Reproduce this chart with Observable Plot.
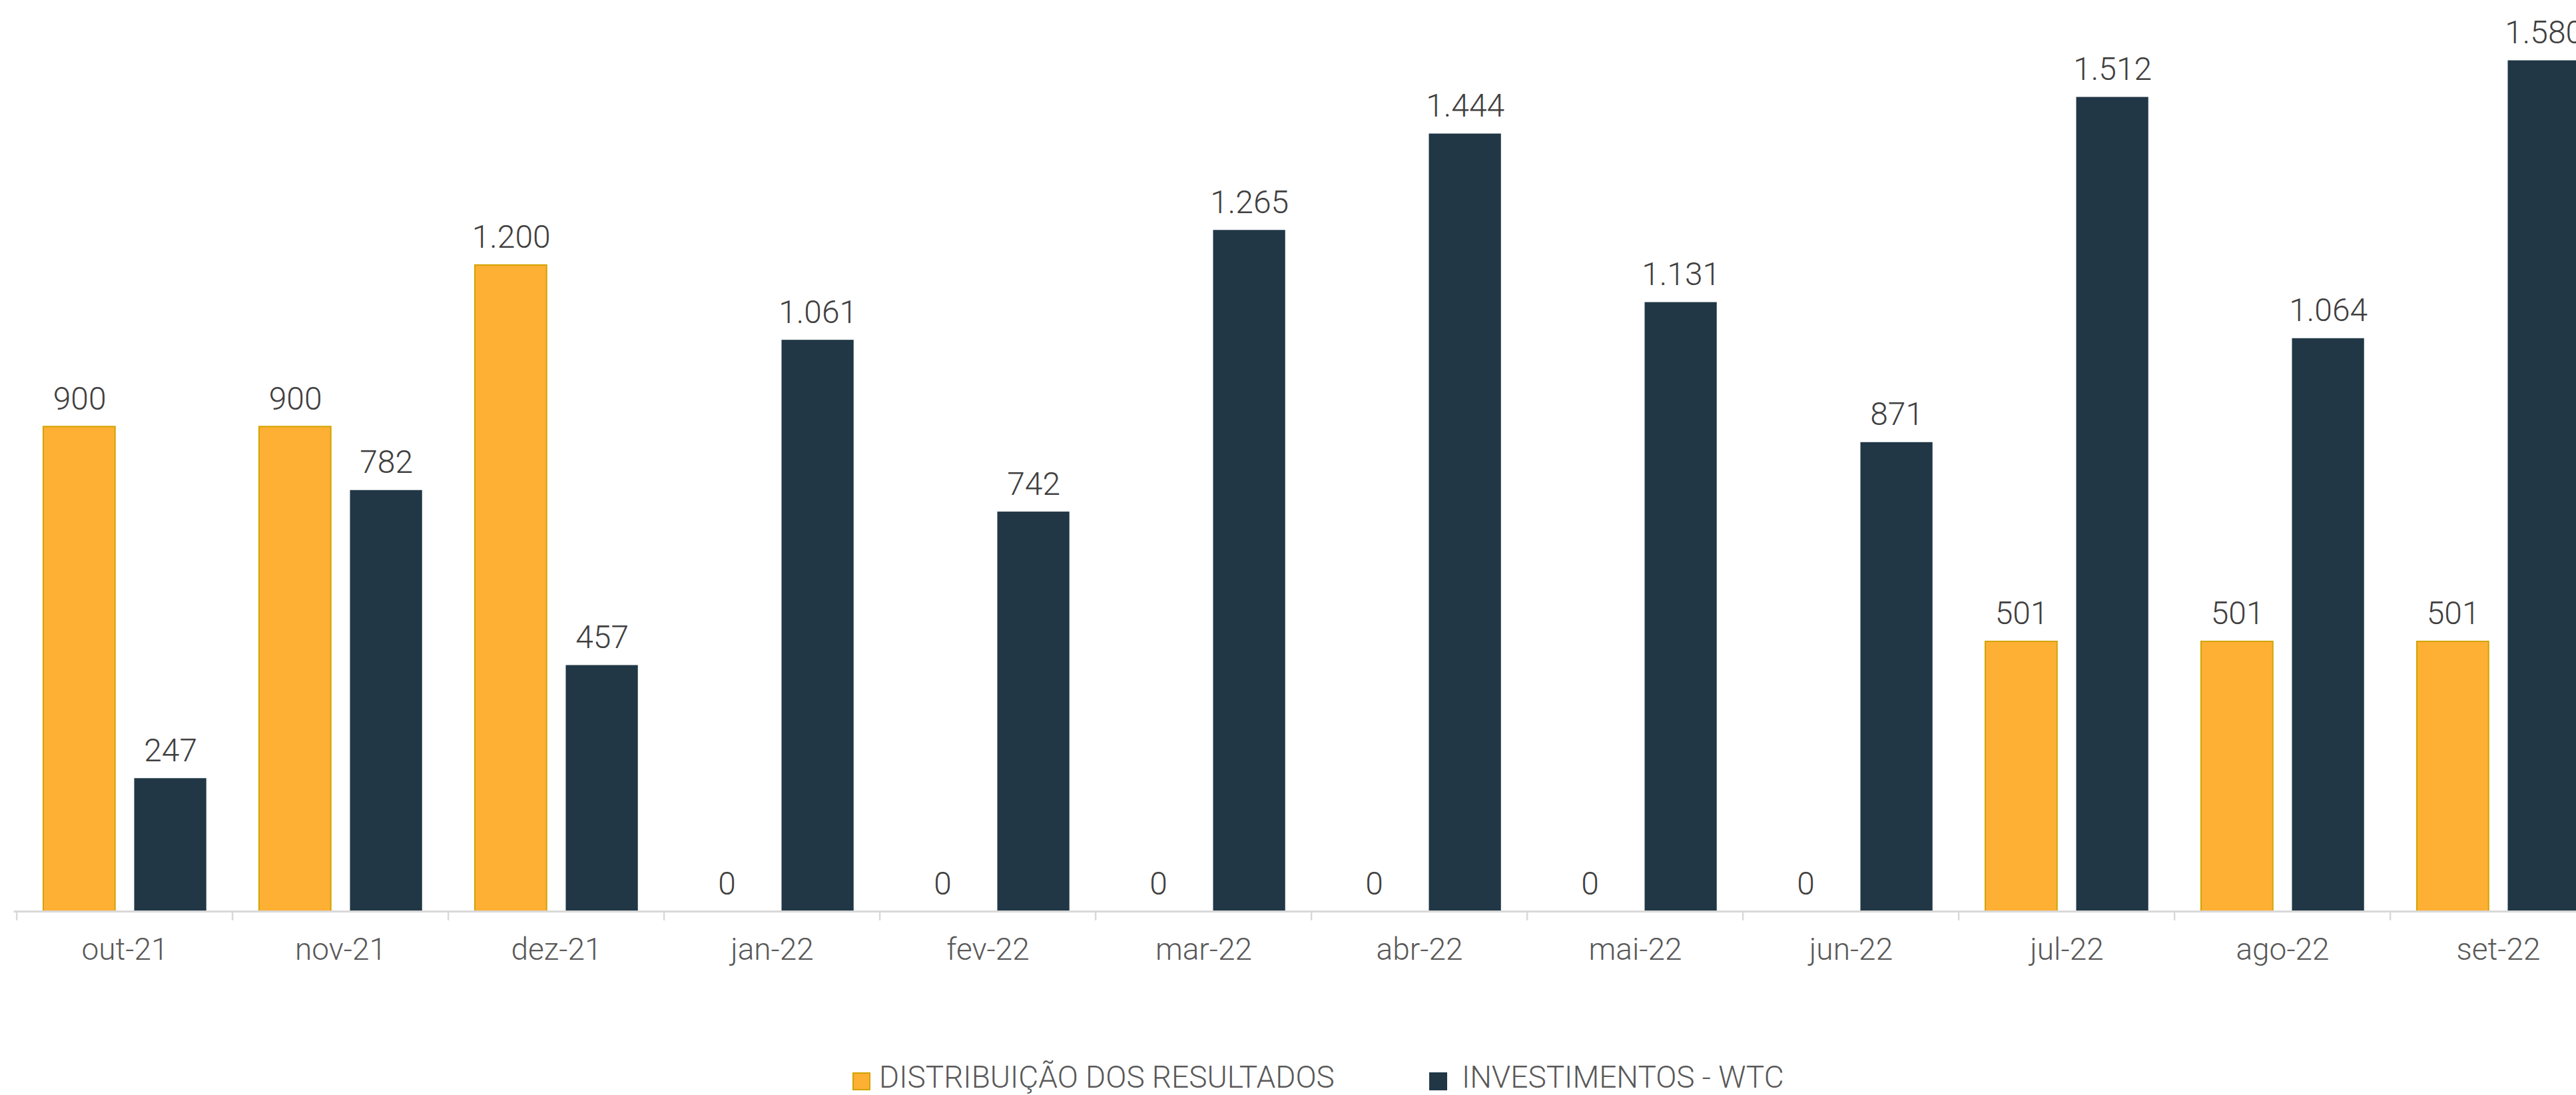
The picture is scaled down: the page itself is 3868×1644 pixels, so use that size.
<!DOCTYPE html>
<html><head><meta charset="utf-8">
<script src="https://cdn.jsdelivr.net/npm/d3@7"></script>
<script src="https://cdn.jsdelivr.net/npm/@observablehq/plot@0.6"></script>
<style>
html,body{margin:0;padding:0;background:#fff;overflow:hidden;width:3868px;height:1644px;position:relative;}
#chart{position:absolute;left:0;top:0;}
#legend{position:absolute;top:1594px;left:1280px;display:flex;align-items:flex-start;font-family:Roboto,"Open Sans",sans-serif;font-weight:300;font-size:46px;line-height:46px;color:#595959;white-space:nowrap;}
#legend .sw{width:23px;height:23px;margin-top:16px;margin-right:13px;box-sizing:content-box;}
#legend .item{display:flex;align-items:flex-start;}
</style>
</head><body>
<div id="chart"></div>
<div id="legend"></div>
<script>
const months = ["out-21","nov-21","dez-21","jan-22","fev-22","mar-22","abr-22","mai-22","jun-22","jul-22","ago-22","set-22"];
const distribuicao = [900,900,1200,0,0,0,0,0,0,501,501,501];
const investimentos = [247,782,457,1061,742,1265,1444,1131,871,1512,1064,1580];
const seriesNames = ["DISTRIBUIÇÃO DOS RESULTADOS","INVESTIMENTOS - WTC"];
const seriesColors = ["#FDB034","#213746"];
const seriesStroke = ["#D2A300","#213746"];

const fmt = d3.formatLocale({decimal:",",thousands:".",grouping:[3],currency:["R$",""]}).format(",d");

const distRows = months.map((m,i)=>({month:m, value:distribuicao[i]}));
const invRows = months.map((m,i)=>({month:m, value:investimentos[i]}));

const W = 3868, H = 1480, mL = 20.5, mR = -49.5, mB = 112;
const bw = (W - mL - mR) / months.length;

const valueText = {fill:"#404040", fontSize:48, fontWeight:300, lineAnchor:"bottom", dy:-26};

const chart = Plot.plot({
  width: W, height: H,
  marginTop: 0, marginBottom: mB, marginLeft: mL, marginRight: mR,
  style: {fontFamily: "Roboto, 'Open Sans', sans-serif", fontSize: "46px", fontWeight: 300, color: "#595959", background: "#fff", overflow: "hidden"},
  x: {domain: months, padding: 0, tickSize: 0, tickPadding: 40, label: null},
  y: {domain: [0, 1692], axis: null},
  marks: [
    Plot.barY(distRows, {x:"month", y:"value", fill: seriesColors[0], stroke: seriesStroke[0], strokeWidth: 2, insetLeft: 40, insetRight: bw - 148.5}),
    Plot.barY(invRows, {x:"month", y:"value", fill: seriesColors[1], insetLeft: 176.5, insetRight: bw - 285.5}),
    Plot.ruleY([0], {stroke:"#d9d9d9", strokeWidth: 3}),
    Plot.ruleX(months, {x: d => d, dx: -bw/2, y1: 0, y2: -17, stroke:"#d9d9d9", strokeWidth: 2.5}),
    Plot.text(distRows, {x:"month", y:"value", text: d => fmt(d.value), dx: 94.5 - bw/2, ...valueText}),
    Plot.text(invRows, {x:"month", y:"value", text: d => fmt(d.value), dx: 231 - bw/2, ...valueText})
  ]
});
document.getElementById("chart").appendChild(chart);

const legend = document.getElementById("legend");
seriesNames.forEach((name, i) => {
  const item = document.createElement("div");
  item.className = "item";
  const sw = document.createElement("div");
  sw.className = "sw";
  if (i > 0) { item.style.marginLeft = "142px"; sw.style.marginRight = "22px"; }
  sw.style.background = seriesColors[i];
  sw.style.border = "2px solid " + seriesStroke[i];
  const t = document.createElement("span");
  t.textContent = name;
  item.appendChild(sw); item.appendChild(t);
  legend.appendChild(item);
});
</script>
</body></html>
